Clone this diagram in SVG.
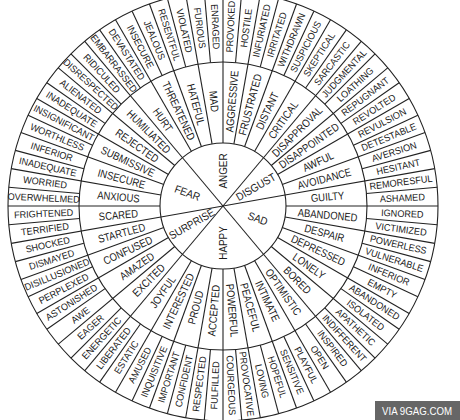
<svg xmlns="http://www.w3.org/2000/svg" width="460" height="420" viewBox="0 0 460 420">
<style>
.ln{fill:none;stroke:#222;stroke-width:1.1}
text{font-family:"Liberation Sans",Arial,sans-serif;fill:#1a1a1a;text-anchor:middle;dominant-baseline:central}
.c{font-size:11px;transform:scale(.9,1)}
.m{font-size:11px;transform:scale(.86,1)}
.o{font-size:9.6px;transform:scale(.95,1)}
.wm{font-size:11px;fill:#fff}
</style>
<defs>
<line id="cs" x1="0" y1="0" x2="63" y2="0"/>
<line id="ms" x1="63" y1="0" x2="215" y2="0"/>
<line id="os" x1="144" y1="0" x2="215" y2="0"/>
</defs>
<rect width="460" height="420" fill="#fff"/>
<g id="connectors" class="ln" transform="translate(223 206)">
<circle r="63"/><circle r="144"/><circle r="215"/>
<use href="#cs" transform="rotate(-10)"/><use href="#cs" transform="rotate(-50)"/><use href="#cs" transform="rotate(-130)"/>
<use href="#cs" transform="rotate(-190)"/><use href="#cs" transform="rotate(-230)"/><use href="#cs" transform="rotate(-310)"/>
<use href="#ms" transform="rotate(0)"/><use href="#ms" transform="rotate(10)"/><use href="#ms" transform="rotate(20)"/><use href="#ms" transform="rotate(30)"/>
<use href="#ms" transform="rotate(40)"/><use href="#ms" transform="rotate(50)"/><use href="#ms" transform="rotate(60)"/><use href="#ms" transform="rotate(70)"/>
<use href="#ms" transform="rotate(80)"/><use href="#ms" transform="rotate(90)"/><use href="#ms" transform="rotate(100)"/><use href="#ms" transform="rotate(110)"/>
<use href="#ms" transform="rotate(120)"/><use href="#ms" transform="rotate(130)"/><use href="#ms" transform="rotate(140)"/><use href="#ms" transform="rotate(150)"/>
<use href="#ms" transform="rotate(160)"/><use href="#ms" transform="rotate(170)"/><use href="#ms" transform="rotate(180)"/><use href="#ms" transform="rotate(190)"/>
<use href="#ms" transform="rotate(200)"/><use href="#ms" transform="rotate(210)"/><use href="#ms" transform="rotate(220)"/><use href="#ms" transform="rotate(230)"/>
<use href="#ms" transform="rotate(240)"/><use href="#ms" transform="rotate(250)"/><use href="#ms" transform="rotate(260)"/><use href="#ms" transform="rotate(270)"/>
<use href="#ms" transform="rotate(280)"/><use href="#ms" transform="rotate(290)"/><use href="#ms" transform="rotate(300)"/><use href="#ms" transform="rotate(310)"/>
<use href="#ms" transform="rotate(320)"/><use href="#ms" transform="rotate(330)"/><use href="#ms" transform="rotate(340)"/><use href="#ms" transform="rotate(350)"/>
<use href="#os" transform="rotate(5)"/><use href="#os" transform="rotate(15)"/><use href="#os" transform="rotate(25)"/><use href="#os" transform="rotate(35)"/>
<use href="#os" transform="rotate(45)"/><use href="#os" transform="rotate(55)"/><use href="#os" transform="rotate(65)"/><use href="#os" transform="rotate(75)"/>
<use href="#os" transform="rotate(85)"/><use href="#os" transform="rotate(95)"/><use href="#os" transform="rotate(105)"/><use href="#os" transform="rotate(115)"/>
<use href="#os" transform="rotate(125)"/><use href="#os" transform="rotate(135)"/><use href="#os" transform="rotate(145)"/><use href="#os" transform="rotate(155)"/>
<use href="#os" transform="rotate(165)"/><use href="#os" transform="rotate(175)"/><use href="#os" transform="rotate(185)"/><use href="#os" transform="rotate(195)"/>
<use href="#os" transform="rotate(205)"/><use href="#os" transform="rotate(215)"/><use href="#os" transform="rotate(225)"/><use href="#os" transform="rotate(235)"/>
<use href="#os" transform="rotate(245)"/><use href="#os" transform="rotate(255)"/><use href="#os" transform="rotate(265)"/><use href="#os" transform="rotate(275)"/>
<use href="#os" transform="rotate(285)"/><use href="#os" transform="rotate(295)"/><use href="#os" transform="rotate(305)"/><use href="#os" transform="rotate(315)"/>
<use href="#os" transform="rotate(325)"/><use href="#os" transform="rotate(335)"/><use href="#os" transform="rotate(345)"/><use href="#os" transform="rotate(355)"/>
</g>
<g id="nodes" transform="translate(223 206)">
<g id="core-anger" transform="rotate(-90) translate(35 0)"><text class="c">ANGER</text></g>
<g id="core-disgust" transform="rotate(-30) translate(38 0)"><text class="c">DISGUST</text></g>
<g id="core-sad" transform="rotate(20) translate(37 0)"><text class="c">SAD</text></g>
<g id="core-happy" transform="rotate(90) translate(37 0) rotate(180)"><text class="c">HAPPY</text></g>
<g id="core-surprise" transform="rotate(150) translate(36 0) rotate(180)"><text class="c">SURPRISE</text></g>
<g id="core-fear" transform="rotate(-160) translate(38 0) rotate(180)"><text class="c">FEAR</text></g>

<g id="m-mad" transform="rotate(-95) translate(105 0) rotate(180)"><text class="m">MAD</text></g>
<g id="m-aggressive" transform="rotate(-85) translate(105 0)"><text class="m">AGGRESSIVE</text></g>
<g id="m-frustrated" transform="rotate(-75) translate(105 0)"><text class="m">FRUSTRATED</text></g>
<g id="m-distant" transform="rotate(-65) translate(105 0)"><text class="m">DISTANT</text></g>
<g id="m-critical" transform="rotate(-55) translate(105 0)"><text class="m">CRITICAL</text></g>
<g id="m-disapproval" transform="rotate(-45) translate(105 0)"><text class="m">DISAPPROVAL</text></g>
<g id="m-disappointed" transform="rotate(-35) translate(105 0)"><text class="m">DISAPPOINTED</text></g>
<g id="m-awful" transform="rotate(-25) translate(105 0)"><text class="m">AWFUL</text></g>
<g id="m-avoidance" transform="rotate(-15) translate(105 0)"><text class="m">AVOIDANCE</text></g>
<g id="m-guilty" transform="rotate(-5) translate(105 0)"><text class="m">GUILTY</text></g>
<g id="m-abandoned" transform="rotate(5) translate(105 0)"><text class="m">ABANDONED</text></g>
<g id="m-despair" transform="rotate(15) translate(105 0)"><text class="m">DESPAIR</text></g>
<g id="m-depressed" transform="rotate(25) translate(105 0)"><text class="m">DEPRESSED</text></g>
<g id="m-lonely" transform="rotate(35) translate(105 0)"><text class="m">LONELY</text></g>
<g id="m-bored" transform="rotate(45) translate(105 0)"><text class="m">BORED</text></g>
<g id="m-optimistic" transform="rotate(55) translate(105 0)"><text class="m">OPTIMISTIC</text></g>
<g id="m-intimate" transform="rotate(65) translate(105 0)"><text class="m">INTIMATE</text></g>
<g id="m-peaceful" transform="rotate(75) translate(105 0)"><text class="m">PEACEFUL</text></g>
<g id="m-powerful" transform="rotate(85) translate(105 0)"><text class="m">POWERFUL</text></g>
<g id="m-accepted" transform="rotate(95) translate(105 0) rotate(180)"><text class="m">ACCEPTED</text></g>
<g id="m-proud" transform="rotate(105) translate(105 0) rotate(180)"><text class="m">PROUD</text></g>
<g id="m-interested" transform="rotate(115) translate(105 0) rotate(180)"><text class="m">INTERESTED</text></g>
<g id="m-joyful" transform="rotate(125) translate(105 0) rotate(180)"><text class="m">JOYFUL</text></g>
<g id="m-excited" transform="rotate(135) translate(105 0) rotate(180)"><text class="m">EXCITED</text></g>
<g id="m-amazed" transform="rotate(145) translate(105 0) rotate(180)"><text class="m">AMAZED</text></g>
<g id="m-confused" transform="rotate(155) translate(105 0) rotate(180)"><text class="m">CONFUSED</text></g>
<g id="m-startled" transform="rotate(165) translate(105 0) rotate(180)"><text class="m">STARTLED</text></g>
<g id="m-scared" transform="rotate(175) translate(105 0) rotate(180)"><text class="m">SCARED</text></g>
<g id="m-anxious" transform="rotate(-175) translate(105 0) rotate(180)"><text class="m">ANXIOUS</text></g>
<g id="m-insecure" transform="rotate(-165) translate(105 0) rotate(180)"><text class="m">INSECURE</text></g>
<g id="m-submissive" transform="rotate(-155) translate(105 0) rotate(180)"><text class="m">SUBMISSIVE</text></g>
<g id="m-rejected" transform="rotate(-145) translate(105 0) rotate(180)"><text class="m">REJECTED</text></g>
<g id="m-humiliated" transform="rotate(-135) translate(105 0) rotate(180)"><text class="m">HUMILIATED</text></g>
<g id="m-hurt" transform="rotate(-125) translate(105 0) rotate(180)"><text class="m">HURT</text></g>
<g id="m-threatened" transform="rotate(-115) translate(105 0) rotate(180)"><text class="m">THREATENED</text></g>
<g id="m-hateful" transform="rotate(-105) translate(105 0) rotate(180)"><text class="m">HATEFUL</text></g>

<g id="o-enraged" transform="rotate(-92.5) translate(179.5 0) rotate(180)"><text class="o">ENRAGED</text></g>
<g id="o-provoked" transform="rotate(-87.5) translate(179.5 0)"><text class="o">PROVOKED</text></g>
<g id="o-hostile" transform="rotate(-82.5) translate(179.5 0)"><text class="o">HOSTILE</text></g>
<g id="o-infuriated" transform="rotate(-77.5) translate(179.5 0)"><text class="o">INFURIATED</text></g>
<g id="o-irritated" transform="rotate(-72.5) translate(179.5 0)"><text class="o">IRRITATED</text></g>
<g id="o-withdrawn" transform="rotate(-67.5) translate(179.5 0)"><text class="o">WITHDRAWN</text></g>
<g id="o-suspicious" transform="rotate(-62.5) translate(179.5 0)"><text class="o">SUSPICIOUS</text></g>
<g id="o-skeptical" transform="rotate(-57.5) translate(179.5 0)"><text class="o">SKEPTICAL</text></g>
<g id="o-sarcastic" transform="rotate(-52.5) translate(179.5 0)"><text class="o">SARCASTIC</text></g>
<g id="o-judgmental" transform="rotate(-47.5) translate(179.5 0)"><text class="o">JUDGMENTAL</text></g>
<g id="o-loathing" transform="rotate(-42.5) translate(179.5 0)"><text class="o">LOATHING</text></g>
<g id="o-repugnant" transform="rotate(-37.5) translate(179.5 0)"><text class="o">REPUGNANT</text></g>
<g id="o-revolted" transform="rotate(-32.5) translate(179.5 0)"><text class="o">REVOLTED</text></g>
<g id="o-revulsion" transform="rotate(-27.5) translate(179.5 0)"><text class="o">REVULSION</text></g>
<g id="o-detestable" transform="rotate(-22.5) translate(179.5 0)"><text class="o">DETESTABLE</text></g>
<g id="o-aversion" transform="rotate(-17.5) translate(179.5 0)"><text class="o">AVERSION</text></g>
<g id="o-hesitant" transform="rotate(-12.5) translate(179.5 0)"><text class="o">HESITANT</text></g>
<g id="o-remoresful" transform="rotate(-7.5) translate(179.5 0)"><text class="o">REMORESFUL</text></g>
<g id="o-ashamed" transform="rotate(-2.5) translate(179.5 0)"><text class="o">ASHAMED</text></g>
<g id="o-ignored" transform="rotate(2.5) translate(179.5 0)"><text class="o">IGNORED</text></g>
<g id="o-victimized" transform="rotate(7.5) translate(179.5 0)"><text class="o">VICTIMIZED</text></g>
<g id="o-powerless" transform="rotate(12.5) translate(179.5 0)"><text class="o">POWERLESS</text></g>
<g id="o-vulnerable" transform="rotate(17.5) translate(179.5 0)"><text class="o">VULNERABLE</text></g>
<g id="o-inferior-1" transform="rotate(22.5) translate(179.5 0)"><text class="o">INFERIOR</text></g>
<g id="o-empty" transform="rotate(27.5) translate(179.5 0)"><text class="o">EMPTY</text></g>
<g id="o-abandoned" transform="rotate(32.5) translate(179.5 0)"><text class="o">ABANDONED</text></g>
<g id="o-isolated" transform="rotate(37.5) translate(179.5 0)"><text class="o">ISOLATED</text></g>
<g id="o-apathetic" transform="rotate(42.5) translate(179.5 0)"><text class="o">APATHETIC</text></g>
<g id="o-indifferent" transform="rotate(47.5) translate(179.5 0)"><text class="o">INDIFFERENT</text></g>
<g id="o-inspired" transform="rotate(52.5) translate(179.5 0)"><text class="o">INSPIRED</text></g>
<g id="o-open" transform="rotate(57.5) translate(179.5 0)"><text class="o">OPEN</text></g>
<g id="o-playful" transform="rotate(62.5) translate(179.5 0)"><text class="o">PLAYFUL</text></g>
<g id="o-sensitive" transform="rotate(67.5) translate(179.5 0)"><text class="o">SENSITIVE</text></g>
<g id="o-hopeful" transform="rotate(72.5) translate(179.5 0)"><text class="o">HOPEFUL</text></g>
<g id="o-loving" transform="rotate(77.5) translate(179.5 0)"><text class="o">LOVING</text></g>
<g id="o-provocative" transform="rotate(82.5) translate(179.5 0)"><text class="o">PROVOCATIVE</text></g>
<g id="o-courgeous" transform="rotate(87.5) translate(179.5 0)"><text class="o">COURGEOUS</text></g>
<g id="o-fulfilled" transform="rotate(92.5) translate(179.5 0) rotate(180)"><text class="o">FULFILLED</text></g>
<g id="o-respected" transform="rotate(97.5) translate(179.5 0) rotate(180)"><text class="o">RESPECTED</text></g>
<g id="o-confident" transform="rotate(102.5) translate(179.5 0) rotate(180)"><text class="o">CONFIDENT</text></g>
<g id="o-important" transform="rotate(107.5) translate(179.5 0) rotate(180)"><text class="o">IMPORTANT</text></g>
<g id="o-inquisitive" transform="rotate(112.5) translate(179.5 0) rotate(180)"><text class="o">INQUISITIVE</text></g>
<g id="o-amused" transform="rotate(117.5) translate(179.5 0) rotate(180)"><text class="o">AMUSED</text></g>
<g id="o-estatic" transform="rotate(122.5) translate(179.5 0) rotate(180)"><text class="o">ESTATIC</text></g>
<g id="o-liberated" transform="rotate(127.5) translate(179.5 0) rotate(180)"><text class="o">LIBERATED</text></g>
<g id="o-energetic" transform="rotate(132.5) translate(179.5 0) rotate(180)"><text class="o">ENERGETIC</text></g>
<g id="o-eager" transform="rotate(137.5) translate(179.5 0) rotate(180)"><text class="o">EAGER</text></g>
<g id="o-awe" transform="rotate(142.5) translate(179.5 0) rotate(180)"><text class="o">AWE</text></g>
<g id="o-astonished" transform="rotate(147.5) translate(179.5 0) rotate(180)"><text class="o">ASTONISHED</text></g>
<g id="o-perplexed" transform="rotate(152.5) translate(179.5 0) rotate(180)"><text class="o">PERPLEXED</text></g>
<g id="o-disillusioned" transform="rotate(157.5) translate(179.5 0) rotate(180)"><text class="o">DISILLUSIONED</text></g>
<g id="o-dismayed" transform="rotate(162.5) translate(179.5 0) rotate(180)"><text class="o">DISMAYED</text></g>
<g id="o-shocked" transform="rotate(167.5) translate(179.5 0) rotate(180)"><text class="o">SHOCKED</text></g>
<g id="o-terrified" transform="rotate(172.5) translate(179.5 0) rotate(180)"><text class="o">TERRIFIED</text></g>
<g id="o-frightened" transform="rotate(177.5) translate(179.5 0) rotate(180)"><text class="o">FRIGHTENED</text></g>
<g id="o-overwhelmed" transform="rotate(-177.5) translate(179.5 0) rotate(180)"><text class="o">OVERWHELMED</text></g>
<g id="o-worried" transform="rotate(-172.5) translate(179.5 0) rotate(180)"><text class="o">WORRIED</text></g>
<g id="o-inadequate-1" transform="rotate(-167.5) translate(179.5 0) rotate(180)"><text class="o">INADEQUATE</text></g>
<g id="o-inferior-2" transform="rotate(-162.5) translate(179.5 0) rotate(180)"><text class="o">INFERIOR</text></g>
<g id="o-worthless" transform="rotate(-157.5) translate(179.5 0) rotate(180)"><text class="o">WORTHLESS</text></g>
<g id="o-insignificant" transform="rotate(-152.5) translate(179.5 0) rotate(180)"><text class="o">INSIGNIFICANT</text></g>
<g id="o-inadequate-2" transform="rotate(-147.5) translate(179.5 0) rotate(180)"><text class="o">INADEQUATE</text></g>
<g id="o-alienated" transform="rotate(-142.5) translate(179.5 0) rotate(180)"><text class="o">ALIENATED</text></g>
<g id="o-disrespected" transform="rotate(-137.5) translate(179.5 0) rotate(180)"><text class="o">DISRESPECTED</text></g>
<g id="o-ridiculed" transform="rotate(-132.5) translate(179.5 0) rotate(180)"><text class="o">RIDICULED</text></g>
<g id="o-embarrassed" transform="rotate(-127.5) translate(179.5 0) rotate(180)"><text class="o">EMBARRASSED</text></g>
<g id="o-devastated" transform="rotate(-122.5) translate(179.5 0) rotate(180)"><text class="o">DEVASTATED</text></g>
<g id="o-insecure" transform="rotate(-117.5) translate(179.5 0) rotate(180)"><text class="o">INSECURE</text></g>
<g id="o-jealous" transform="rotate(-112.5) translate(179.5 0) rotate(180)"><text class="o">JEALOUS</text></g>
<g id="o-resentful" transform="rotate(-107.5) translate(179.5 0) rotate(180)"><text class="o">RESENTFUL</text></g>
<g id="o-violated" transform="rotate(-102.5) translate(179.5 0) rotate(180)"><text class="o">VIOLATED</text></g>
<g id="o-furious" transform="rotate(-97.5) translate(179.5 0) rotate(180)"><text class="o">FURIOUS</text></g>
</g>
<g id="watermark">
<rect x="375" y="401" width="85" height="19" fill="#666"/>
<text class="wm" x="417" y="411" textLength="70" lengthAdjust="spacingAndGlyphs">VIA 9GAG.COM</text>
</g>
</svg>
